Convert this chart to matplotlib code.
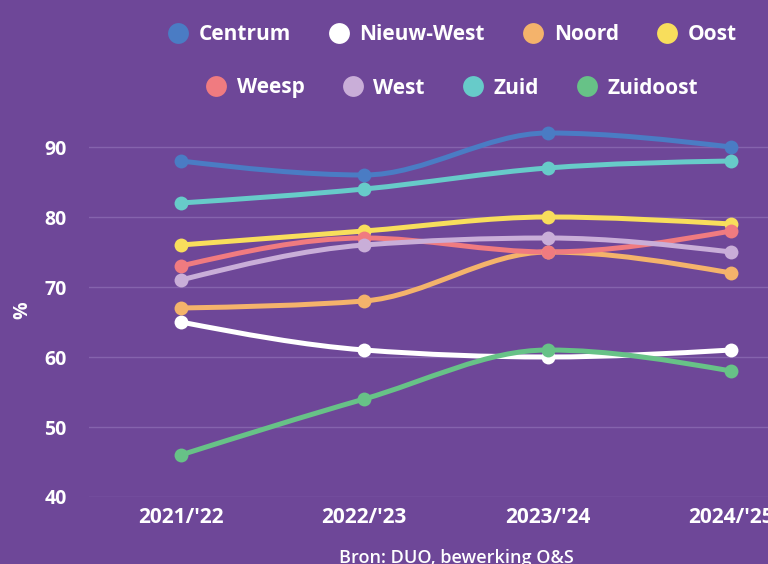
import matplotlib
matplotlib.use("Agg")
import matplotlib.pyplot as plt
import numpy as np
from matplotlib.path import Path
from matplotlib.patches import PathPatch
from matplotlib.lines import Line2D

BG = "#6e4798"
FONT = "Open Sans"

years = ["2021/'22", "2022/'23", "2023/'24", "2024/'25"]
districts = ["Centrum", "Nieuw-West", "Noord", "Oost", "Weesp", "West", "Zuid", "Zuidoost"]
centrum = [88, 86, 92, 90]
nieuw_west = [65, 61, 60, 61]
noord = [67, 68, 75, 72]
oost = [76, 78, 80, 79]
weesp = [73, 77, 75, 78]
west = [71, 76, 77, 75]
zuid = [82, 84, 87, 88]
zuidoost = [46, 54, 61, 58]
colors = ["#4a7cc4", "#ffffff", "#f4b36b", "#f8de5c", "#f07b80", "#c9aed8", "#67cbc9", "#67c287"]
series = [centrum, nieuw_west, noord, oost, weesp, west, zuid, zuidoost]


def _sgn(v):
    return -1.0 if v < 0 else 1.0


def monotone_path(xs, ys):
    # same shape as d3.curveMonotoneX
    n = len(xs)
    t = [0.0] * n
    for i in range(1, n - 1):
        h0, h1 = xs[i] - xs[i - 1], xs[i + 1] - xs[i]
        s0 = (ys[i] - ys[i - 1]) / h0
        s1 = (ys[i + 1] - ys[i]) / h1
        p = (s0 * h1 + s1 * h0) / (h0 + h1)
        t[i] = (_sgn(s0) + _sgn(s1)) * min(abs(s0), abs(s1), 0.5 * abs(p))
    t[0] = (3 * (ys[1] - ys[0]) / (xs[1] - xs[0]) - t[1]) / 2
    t[-1] = (3 * (ys[-1] - ys[-2]) / (xs[-1] - xs[-2]) - t[-2]) / 2
    verts = [(xs[0], ys[0])]
    codes = [Path.MOVETO]
    for i in range(n - 1):
        dx = (xs[i + 1] - xs[i]) / 3
        verts += [(xs[i] + dx, ys[i] + dx * t[i]),
                  (xs[i + 1] - dx, ys[i + 1] - dx * t[i + 1]),
                  (xs[i + 1], ys[i + 1])]
        codes += [Path.CURVE4] * 3
    return Path(verts, codes)


fig = plt.figure(figsize=(7.68, 5.64), dpi=100, facecolor=BG)
ax = fig.add_axes([89 / 768, 1 - 497 / 564, 734 / 768, 385 / 564])
ax.set_facecolor(BG)

x = np.arange(len(years))
for vals, c in zip(series, colors):
    ax.add_patch(PathPatch(monotone_path(x, vals), fill=False, edgecolor=c,
                           lw=3.6, capstyle="round", joinstyle="round"))
    ax.plot(x, vals, "o", color=c, ms=10, mec="none")

ax.set_xlim(-0.5, 3.5)
ax.set_ylim(40, 95)
ax.set_yticks([40, 50, 60, 70, 80, 90])
ax.set_xticks(x)
ax.set_xticklabels(years)
ax.grid(axis="y", color="#8563ad", lw=1)
ax.set_axisbelow(True)
for s in ax.spines.values():
    s.set_visible(False)
ax.tick_params(length=0, colors="white")
ax.tick_params(axis="y", pad=16, labelsize=14)
ax.tick_params(axis="x", pad=7, labelsize=15)
for lab in ax.get_xticklabels() + ax.get_yticklabels():
    lab.set_fontfamily(FONT)
    lab.set_fontweight("bold")

fig.text(22 / 768, 1 - 310 / 564, "%", rotation=90, color="white", fontsize=14,
         family=FONT, weight="bold", ha="center", va="center")
fig.text(456 / 768, 1 - 558 / 564, "Bron: DUO, bewerking O&S", color="white",
         fontsize=13, family=FONT, weight="semibold", ha="center", va="center")

for row, ypix in ((slice(0, 4), 35), (slice(4, 8), 88)):
    handles = [Line2D([], [], marker="o", linestyle="", ms=15, color=c, mec="none")
               for c in colors[row]]
    fig.legend(handles, districts[row], loc="center", ncol=4, frameon=False,
               bbox_to_anchor=(452 / 768, 1 - ypix / 564),
               prop={"family": FONT, "weight": "bold", "size": 15},
               labelcolor="white", handlelength=1.0, handletextpad=0.5,
               columnspacing=1.8)

fig.savefig("out.png", dpi=100, facecolor=BG)
